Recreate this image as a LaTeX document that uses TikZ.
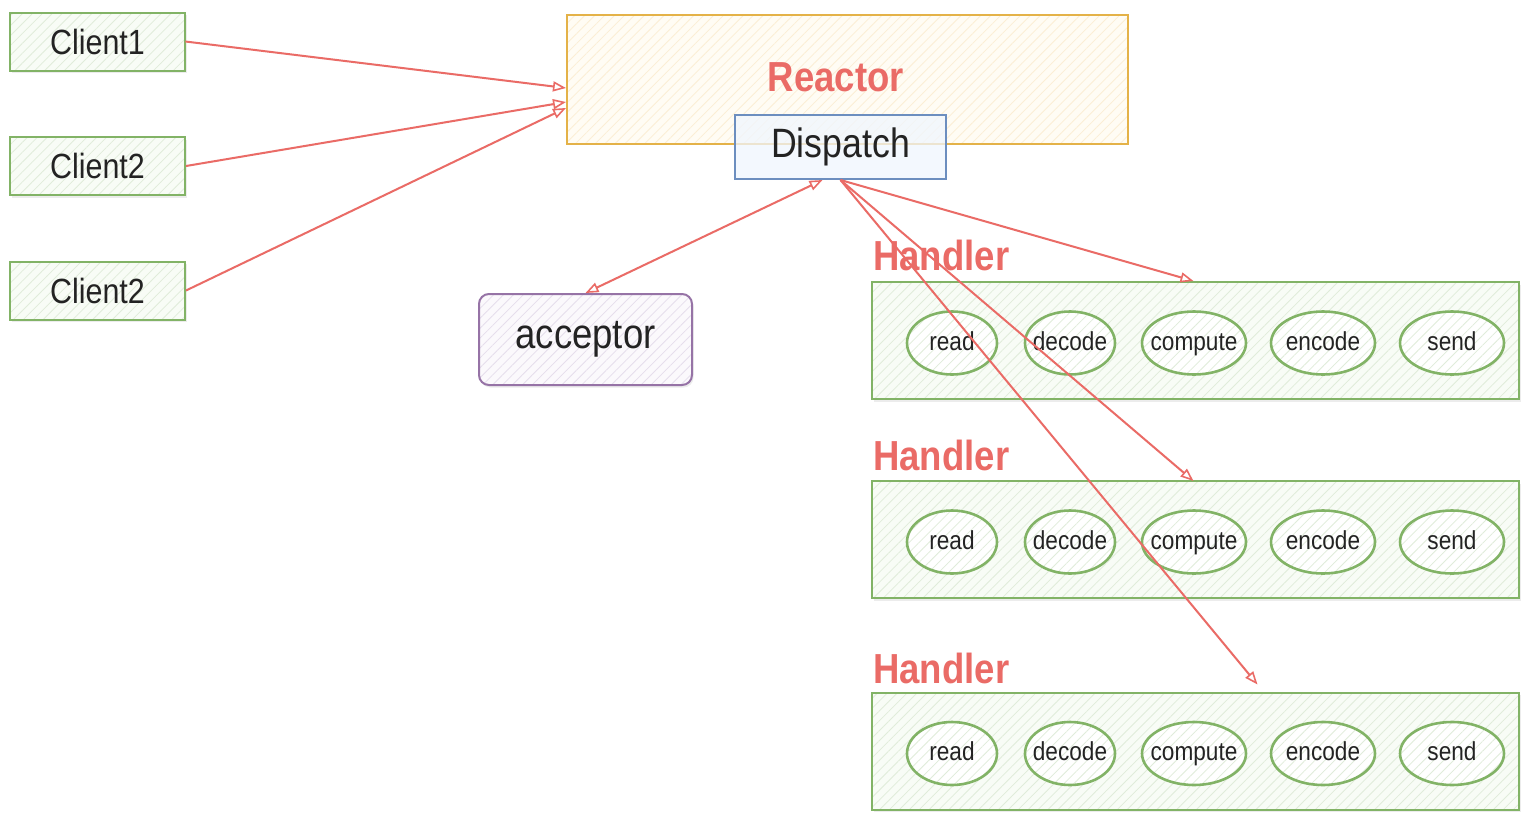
\documentclass[tikz,border=0pt]{standalone}
\usepackage{fontspec}
\setmainfont[FakeStretch=0.87]{Liberation Sans}
\usetikzlibrary{shapes.geometric,arrows.meta,patterns.meta,shadows}
\definecolor{rd}{RGB}{234,107,102}
\definecolor{txt}{RGB}{35,35,35}
\definecolor{gborder}{RGB}{130,179,102}
\definecolor{gfill}{RGB}{248,252,246}
\definecolor{ghatch}{RGB}{224,236,218}
\definecolor{oborder}{RGB}{228,178,72}
\definecolor{ofill}{RGB}{255,252,244}
\definecolor{ohatch}{RGB}{251,238,212}
\definecolor{bborder}{RGB}{108,142,191}
\definecolor{bfill}{RGB}{240,246,254}
\definecolor{pborder}{RGB}{150,115,166}
\definecolor{pfill}{RGB}{251,249,252}
\definecolor{phatch}{RGB}{230,222,236}
\tikzset{
  shd/.style={drop shadow={shadow xshift=1.5pt, shadow yshift=-2.5pt, opacity=0.15}},
  hatch/.style 2 args={preaction={fill=#1}, pattern={Lines[angle=45,distance=7pt,line width=0.8pt]}, pattern color=#2},
  clientbox/.style={shd, draw=gborder, line width=2pt, minimum width=175pt, minimum height=58pt, inner sep=0pt,
    hatch={gfill}{ghatch}, text=txt, font=\fontsize{35}{40}\selectfont},
  reactorbox/.style={draw=oborder, line width=2pt, minimum width=561pt, minimum height=129pt, inner sep=0pt,
    hatch={ofill}{ohatch}},
  dispbox/.style={draw=bborder, line width=2pt, minimum width=211pt, minimum height=64pt, inner sep=0pt,
    fill=bfill, fill opacity=0.75, text opacity=1, text=txt, font=\fontsize{41}{46}\selectfont},
  accbox/.style={shd, draw=pborder, line width=2pt, rounded corners=10pt, minimum width=213pt, minimum height=91pt, inner sep=0pt,
    hatch={pfill}{phatch}, text=txt, font=\fontsize{42}{46}\selectfont},
  handlerbox/.style={shd, draw=gborder, line width=2pt, minimum width=647pt, minimum height=117pt, inner sep=0pt,
    hatch={gfill}{ghatch}},
  redlabel/.style={text=rd, font=\bfseries\fontsize{42}{46}\selectfont, inner sep=0pt},
  op/.style={ellipse, draw=gborder, line width=2.6pt, minimum width=#1, minimum height=63pt, inner sep=0pt,
    hatch={white}{ghatch}},
  optext/.style={text=txt, font=\fontsize{26}{30}\selectfont, inner sep=0pt, text height=19pt, text depth=5pt},
  arr/.style={draw=rd, line width=2pt, -{Triangle[open, length=13pt, width=10pt, line width=1.6pt]}},
  biarr/.style={draw=rd, line width=2pt, {Triangle[open, length=13pt, width=10pt, line width=1.6pt]}-{Triangle[open, length=13pt, width=10pt, line width=1.6pt]}}
}
\begin{document}
\begin{tikzpicture}[x=1pt,y=-1pt]
\useasboundingbox[fill=white] (0,0) rectangle (1534,828);
% clients
\node[clientbox] (c1) at (97.5,41.5) {Client1};
\node[clientbox] (c2) at (97.5,166) {Client2};
\node[clientbox] (c3) at (97.5,290.5) {Client2};
% reactor
\node[reactorbox] (reactor) at (847.5,79.5) {};
\node[redlabel] (reactorlbl) at (836,77) {Reactor};
\node[dispbox] (dispatch) at (840.5,147) {Dispatch};
% acceptor
\node[accbox] (acceptor) at (585.5,339.5) {acceptor};
% handlers
\foreach \i/\y/\ly in {1/340.5/255, 2/539.5/455, 3/751/668} {
  \node[redlabel, anchor=west] (hl\i) at (873,\ly) {Handler};
  \node[handlerbox] (h\i) at (1195.5,\y) {};
  \pgfmathsetmacro{\ey}{\y+2.5}
  \node[op=90pt]  (h\i r) at (952,\ey)  {};
  \node[optext] (h\i rt) at (h\i r) {read};
  \node[op=90pt]  (h\i d) at (1070,\ey) {};
  \node[optext] (h\i dt) at (h\i d) {decode};
  \node[op=104pt] (h\i c) at (1194,\ey) {};
  \node[optext] (h\i ct) at (h\i c) {compute};
  \node[op=104pt] (h\i e) at (1323,\ey) {};
  \node[optext] (h\i et) at (h\i e) {encode};
  \node[op=104pt] (h\i s) at (1452,\ey) {};
  \node[optext] (h\i st) at (h\i s) {send};
}
% connectors
\draw[arr] (c1.east) -- ([yshift=-8.5pt]reactor.west);
\draw[arr] (c2.east) -- ([yshift=-22.5pt]reactor.west);
\draw[arr] (c3.east) -- ([yshift=-28.5pt]reactor.west);
\draw[biarr] ([xshift=-18pt]dispatch.south) -- (acceptor.north);
\draw[arr] (dispatch.south) -- ([xshift=-2pt]h1.north);
\draw[arr] (dispatch.south) -- ([xshift=-2pt,yshift=-1pt]h2.north);
\draw[arr] (dispatch.south) -- ([xshift=62pt,yshift=7pt]h3.north);
\end{tikzpicture}
\end{document}
